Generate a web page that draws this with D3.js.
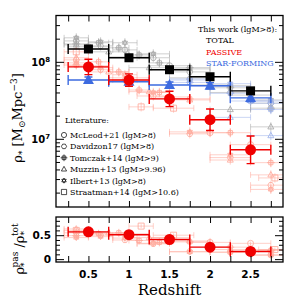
<!DOCTYPE html>
<html>
<head>
<meta charset="utf-8">
<script src="https://cdn.jsdelivr.net/npm/d3@7"></script>
<style>
body { margin: 0; background: #fff; }
svg { display: block; }
</style>
</head>
<body>
<svg width="299" height="299"></svg>
<script>
// ---- this work ----
const zLo = [0.25, 0.75, 1.25, 1.75, 2.25];
const zHi = [0.75, 1.25, 1.75, 2.25, 2.75];
const totalRho = [1.47e8, 1.13e8, 7.9e7, 6.4e7, 4.2e7];
const totalErrDex = [0.03, 0.03, 0.03, 0.03, 0.04];
const passiveRho = [8.6e7, 5.8e7, 3.3e7, 1.77e7, 7.2e6];
const passiveErrDex = [0.10, 0.08, 0.10, 0.14, 0.18];
const sfRho = [5.8e7, 5.5e7, 5.0e7, 4.9e7, 3.4e7];
const sfErrDex = [0.04, 0.03, 0.04, 0.04, 0.05];
const passFrac = [0.57, 0.51, 0.41, 0.25, 0.16];
const passFracErr = [0.05, 0.04, 0.03, 0.03, 0.03];

// ---- literature ----
const litNames = ["McLeod+21 (lgM>8)", "Davidzon17 (lgM>8)", "Tomczak+14 (lgM>9)",
                  "Muzzin+13 (lgM>9.96)", "Ilbert+13 (lgM>8)", "Straatman+14 (lgM>10.6)"];
const litShapes = ["circle", "hexagon", "hash", "triangle", "star", "square"];

const mcleodBins = [[0.25,0.75],[0.75,1.25],[1.25,1.75],[1.75,2.25],[2.25,2.75]];
const mcleodTotal = [1.57e8, 1.16e8, 8.9e7, 5.0e7, 3.7e7];
const mcleodPassive = [8.9e7, 6.2e7, 3.5e7, 1.2e7, 8.4e6];
const mcleodSF = [null, null, null, 4.9e7, 3.1e7];
const mcleodFrac = [0.56, 0.53, 0.45, 0.35, 0.33];

const davidzonBins = [[0.2,0.5],[0.5,0.8],[0.8,1.1],[1.1,1.5],[1.5,2.0],[2.0,2.5],[2.5,3.0]];
const davidzonTotal = [1.87e8, 1.61e8, 1.43e8, 1.13e8, 7.4e7, 4.0e7, 2.9e7];
const davidzonPassive = [1.06e8, 7.9e7, 5.8e7, 3.6e7, 1.16e7, 5.7e6, 2.5e6];
const davidzonSF = [null, null, null, null, 6.0e7, 4.8e7, 2.9e7];
const davidzonFrac = [0.55, 0.50, 0.40, 0.32, 0.16, 0.15, 0.09];

const tomczakBins = [[0.2,0.5],[0.5,0.75],[0.75,1.0],[1.0,1.25],[1.25,1.5],[1.5,2.0],[2.0,2.5],[2.5,3.0]];
const tomczakTotal = [1.71e8, 1.77e8, 1.52e8, 1.23e8, 9.7e7, 8.4e7, 4.6e7, 2.5e7];
const tomczakPassive = [9.1e7, 1.0e8, 7.4e7, 4.3e7, 4.0e7, 3.3e7, 1.2e7, 4.9e6];
const tomczakSF = [null, null, null, null, null, 5.4e7, 3.9e7, 2.4e7];
const tomczakFrac = [0.49, 0.53, 0.55, 0.39, 0.35, 0.36, 0.25, 0.18];

const muzzinBins = [[0.2,0.5],[0.5,1.0],[1.0,1.5],[1.5,2.0],[2.0,2.5],[2.5,3.0]];
const muzzinTotal = [1.66e8, 1.35e8, 8.4e7, 6.2e7, 2.4e7, 1.43e7];
const muzzinPassive = [1.13e8, 7.4e7, 4.1e7, 3.2e7, 5.3e6, 3.4e6];
const muzzinSF = [null, null, null, null, 1.9e7, 1.1e7];
const muzzinFrac = [0.63, 0.55, 0.45, 0.38, 0.20, 0.20];

const ilbertBins = [[0.2,0.5],[0.5,0.8],[0.8,1.1],[1.1,1.5],[1.5,2.0],[2.0,2.5],[2.5,3.0]];
const ilbertTotal = [2.05e8, 1.82e8, 1.77e8, 1.27e8, 8.1e7, 4.9e7, 3.2e7];
const ilbertPassive = [9.7e7, 8.4e7, 6.8e7, 4.0e7, 1.23e7, 6.2e6, 2.2e6];
const ilbertSF = [null, null, null, null, 5.8e7, 5.2e7, 3.1e7];
const ilbertFrac = [0.45, 0.47, 0.44, 0.33, 0.15, 0.14, 0.08];

const straatmanBins = [[0.2,0.5],[1.0,1.3],[1.3,1.8],[2.6,3.0]];
const straatmanTotal = [null, null, null, null];
const straatmanPassive = [1.35e8, 2.6e7, 2.5e7, 3.1e6];
const straatmanSF = [null, null, null, null];
const straatmanFrac = [0.60, 0.69, 0.50, 0.20];

const litErrDex = 0.06;

const xTicks = [0.25, 0.5, 0.75, 1, 1.25, 1.5, 1.75, 2, 2.25, 2.5, 2.75];
const xLabels = [0.5, 1, 1.5, 2, 2.5];
const fracTicks = [0, 0.1, 0.2, 0.3, 0.4, 0.5, 0.6, 0.7, 0.8];

const surveys = [
  {bins: mcleodBins, tot: mcleodTotal, pas: mcleodPassive, sf: mcleodSF, frac: mcleodFrac},
  {bins: davidzonBins, tot: davidzonTotal, pas: davidzonPassive, sf: davidzonSF, frac: davidzonFrac},
  {bins: tomczakBins, tot: tomczakTotal, pas: tomczakPassive, sf: tomczakSF, frac: tomczakFrac},
  {bins: muzzinBins, tot: muzzinTotal, pas: muzzinPassive, sf: muzzinSF, frac: muzzinFrac},
  {bins: ilbertBins, tot: ilbertTotal, pas: ilbertPassive, sf: ilbertSF, frac: ilbertFrac},
  {bins: straatmanBins, tot: straatmanTotal, pas: straatmanPassive, sf: straatmanSF, frac: straatmanFrac}
];

const RED = "#f00000", BLUE = "#3d6be0";
const litColor = {tot: "#a8a8a8", pas: "#ffaa9c", sf: "#9fb3ea"};

const svg = d3.select("svg");
const L = 56, R = 283;
const top1 = 15.5, bot1 = 207, top2 = 217, bot2 = 262;

const x = d3.scaleLinear().domain([0.1, 2.9]).range([L, R]);
const yT = d3.scaleLog().domain([1.3e6, 4.0e8]).range([bot1, top1]);
const yB = d3.scaleLinear().domain([-0.06, 0.88]).range([bot2, top2]);

const defs = svg.append("defs");
defs.append("clipPath").attr("id", "c1").append("rect")
    .attr("x", L).attr("y", top1).attr("width", R - L).attr("height", bot1 - top1);
defs.append("clipPath").attr("id", "c2").append("rect")
    .attr("x", L).attr("y", top2).attr("width", R - L).attr("height", bot2 - top2);

const shapePath = (shape, s) => {
  if (shape === "circle") return d3.symbol(d3.symbolCircle, Math.PI * s * s)();
  if (shape === "hexagon") {
    const p = d3.range(6).map(i => [s * Math.cos(i * Math.PI / 3), s * Math.sin(i * Math.PI / 3)]);
    return "M" + p.join("L") + "Z";
  }
  if (shape === "square") return `M${-s},${-s}H${s}V${s}H${-s}Z`;
  if (shape === "hash") {
    const a = s * 0.7;
    return `M${-a},${-a}H${a}V${a}H${-a}Z M${-s*1.3},0H${s*1.3} M0,${-s*1.3}V${s*1.3}`;
  }
  if (shape === "triangle") return `M0,${-s*1.1}L${s},${s*0.7}L${-s},${s*0.7}Z`;
  if (shape === "star") {
    return `M0,${-s}L${s*0.87},${s*0.5}L${-s*0.87},${s*0.5}Z M0,${s}L${s*0.87},${-s*0.5}L${-s*0.87},${-s*0.5}Z`;
  }
};

// ---------- literature ----------
const litTop = svg.append("g").attr("clip-path", "url(#c1)").attr("fill", "none").attr("stroke-width", 1);
const litBot = svg.append("g").attr("clip-path", "url(#c2)").attr("fill", "none").attr("stroke-width", 1);

const drawLit = (g, bins, vals, yScale, color, shape, errFn) => {
  bins.forEach((b, i) => {
    const v = vals[i];
    if (v == null) return;
    const cx = x((b[0] + b[1]) / 2), cy = yScale(v);
    const [ylo, yhi] = errFn(v);
    g.append("path")
      .attr("stroke", color).attr("stroke-opacity", 0.55)
      .attr("d", `M${x(b[0])},${cy}H${x(b[1])} M${x(b[0])},${cy-3}V${cy+3} M${x(b[1])},${cy-3}V${cy+3}` +
                 ` M${cx},${ylo}V${yhi}`);
    g.append("path")
      .attr("transform", `translate(${cx},${cy})`)
      .attr("stroke", color).attr("stroke-opacity", 0.85)
      .attr("d", shapePath(shape, 3));
  });
};

surveys.forEach((s, k) => {
  const errT = v => [yT(v * Math.pow(10, litErrDex)), yT(v / Math.pow(10, litErrDex))];
  drawLit(litTop, s.bins, s.tot, yT, litColor.tot, litShapes[k], errT);
  drawLit(litTop, s.bins, s.sf, yT, litColor.sf, litShapes[k], errT);
  drawLit(litTop, s.bins, s.pas, yT, litColor.pas, litShapes[k], errT);
  drawLit(litBot, s.bins, s.frac, yB, litColor.pas, litShapes[k], v => [yB(v + 0.04), yB(v - 0.04)]);
});

// ---------- this work ----------
const main = svg.append("g").attr("clip-path", "url(#c1)");

const drawMain = (g, vals, errs, yScale, color, marker, errIsDex) => {
  vals.forEach((v, i) => {
    const cx = x((zLo[i] + zHi[i]) / 2), cy = yScale(v);
    const yl = errIsDex ? yScale(v * Math.pow(10, errs[i])) : yScale(v + errs[i]);
    const yh = errIsDex ? yScale(v / Math.pow(10, errs[i])) : yScale(v - errs[i]);
    g.append("path")
      .attr("fill", "none").attr("stroke", color).attr("stroke-width", 1.4)
      .attr("d", `M${x(zLo[i])},${cy}H${x(zHi[i])} M${x(zLo[i])},${cy-5}V${cy+5} M${x(zHi[i])},${cy-5}V${cy+5}` +
                 ` M${cx},${yl}V${yh} M${cx-4},${yl}H${cx+4} M${cx-4},${yh}H${cx+4}`);
    if (marker === "square")
      g.append("rect").attr("x", cx - 4.5).attr("y", cy - 4.5).attr("width", 9).attr("height", 9).attr("fill", color);
    else if (marker === "circle")
      g.append("circle").attr("cx", cx).attr("cy", cy).attr("r", 5.5).attr("fill", color);
    else
      g.append("path").attr("transform", `translate(${cx},${cy})`)
        .attr("d", "M0,-6L5.5,4L-5.5,4Z").attr("fill", color);
  });
};

drawMain(main, sfRho, sfErrDex, yT, BLUE, "triangle", true);
drawMain(main, totalRho, totalErrDex, yT, "#000", "square", true);
drawMain(main, passiveRho, passiveErrDex, yT, RED, "circle", true);
drawMain(svg.append("g").attr("clip-path", "url(#c2)"), passFrac, passFracErr, yB, RED, "circle", false);

// ---------- frames and ticks ----------
const frame = (yTopPx, yBotPx) => {
  svg.append("rect").attr("x", L).attr("y", yTopPx).attr("width", R - L).attr("height", yBotPx - yTopPx)
    .attr("fill", "none").attr("stroke", "#000").attr("stroke-width", 1.3);
  svg.append("g").attr("transform", `translate(0,${yBotPx})`)
    .call(d3.axisBottom(x).tickValues(xTicks).tickSize(-6).tickFormat(""))
    .call(g => g.select(".domain").remove());
  svg.append("g").attr("transform", `translate(0,${yTopPx})`)
    .call(d3.axisTop(x).tickValues(xTicks).tickSize(-6).tickFormat(""))
    .call(g => g.select(".domain").remove());
};
frame(top1, bot1);
frame(top2, bot2);

const minorLog = [];
[6, 7, 8].forEach(e => d3.range(2, 10).forEach(m => {
  const v = m * Math.pow(10, e);
  if (v > 1.3e6 && v < 4e8) minorLog.push(v);
}));
const majorLog = [1e7, 1e8];
[[d3.axisLeft, L], [d3.axisRight, R]].forEach(([ax, px]) => {
  svg.append("g").attr("transform", `translate(${px},0)`)
    .call(ax(yT).tickValues(minorLog).tickSize(-4).tickFormat(""))
    .call(g => g.select(".domain").remove());
  svg.append("g").attr("transform", `translate(${px},0)`)
    .call(ax(yT).tickValues(majorLog).tickSize(-8).tickFormat(""))
    .call(g => g.select(".domain").remove());
  svg.append("g").attr("transform", `translate(${px},0)`)
    .call(ax(yB).tickValues(fracTicks.filter(t => t !== 0 && t !== 0.5)).tickSize(-4).tickFormat(""))
    .call(g => g.select(".domain").remove());
  svg.append("g").attr("transform", `translate(${px},0)`)
    .call(ax(yB).tickValues([0, 0.5]).tickSize(-8).tickFormat(""))
    .call(g => g.select(".domain").remove());
});
svg.selectAll(".tick line").attr("stroke", "#000").attr("stroke-width", 1);

// tick labels
const tickFont = "DejaVu Sans, sans-serif";
xLabels.forEach(t => {
  svg.append("text").attr("x", x(t)).attr("y", 278).attr("text-anchor", "middle")
    .attr("font-family", tickFont).attr("font-weight", "bold").attr("font-size", 10.5).text(t);
});
majorLog.forEach(v => {
  const t = svg.append("text").attr("x", 50).attr("y", yT(v) + 4).attr("text-anchor", "end")
    .attr("font-family", tickFont).attr("font-weight", "bold").attr("font-size", 10);
  t.append("tspan").text("10");
  t.append("tspan").attr("dy", -4).attr("font-size", 7).text(Math.round(Math.log10(v)));
});
[0, 0.5].forEach(v => {
  svg.append("text").attr("x", 51).attr("y", yB(v) + 4).attr("text-anchor", "end")
    .attr("font-family", tickFont).attr("font-weight", "bold").attr("font-size", 10.5).text(v);
});

// axis titles
const serif = "DejaVu Serif, serif";
svg.append("text").attr("x", (L + R) / 2).attr("y", 295).attr("text-anchor", "middle")
  .attr("font-family", serif).attr("font-size", 15).text("Redshift");

const yt1 = svg.append("text").attr("transform", "translate(22,118) rotate(-90)").attr("text-anchor", "middle")
  .attr("font-family", serif).attr("font-size", 13);
yt1.append("tspan").text("ρ");
yt1.append("tspan").attr("dy", 3).attr("font-size", 9).text("*");
yt1.append("tspan").attr("dy", -3).text("  [M");
yt1.append("tspan").attr("dy", 3).attr("font-size", 9).text("⊙");
yt1.append("tspan").attr("dy", -3).text("Mpc");
yt1.append("tspan").attr("dy", -5).attr("font-size", 9).text("−3");
yt1.append("tspan").attr("dy", 5).text("]");

const yt2 = svg.append("text").attr("transform", "translate(24,249) rotate(-90)").attr("text-anchor", "middle")
  .attr("font-family", serif).attr("font-size", 13);
yt2.append("tspan").text("ρ");
yt2.append("tspan").attr("dy", 3).attr("font-size", 9).text("*");
yt2.append("tspan").attr("dx", -5).attr("dy", -9).attr("font-size", 9).text("pas");
yt2.append("tspan").attr("dy", 6).text("  /ρ");
yt2.append("tspan").attr("dy", 3).attr("font-size", 9).text("*");
yt2.append("tspan").attr("dx", -5).attr("dy", -9).attr("font-size", 9).text("tot");

// legends
const lg = svg.append("g").attr("font-family", serif).attr("font-size", 8);
lg.append("text").attr("x", 198).attr("y", 32).text("This work (lgM>8):");
lg.append("text").attr("x", 206).attr("y", 43).text("TOTAL");
lg.append("text").attr("x", 206).attr("y", 55).attr("fill", RED).text("PASSIVE");
lg.append("text").attr("x", 206).attr("y", 66).attr("fill", BLUE).text("STAR-FORMING");

lg.append("text").attr("x", 65).attr("y", 123).text("Literature:");
litNames.forEach((n, i) => {
  const yy = 135 + i * 11.4;
  lg.append("path").attr("transform", `translate(64,${yy})`)
    .attr("fill", "none").attr("stroke", "#000").attr("stroke-width", 0.7)
    .attr("d", shapePath(litShapes[i], 2.6));
  lg.append("text").attr("x", 70).attr("y", yy + 3).text(n);
});
</script>
</body>
</html>
